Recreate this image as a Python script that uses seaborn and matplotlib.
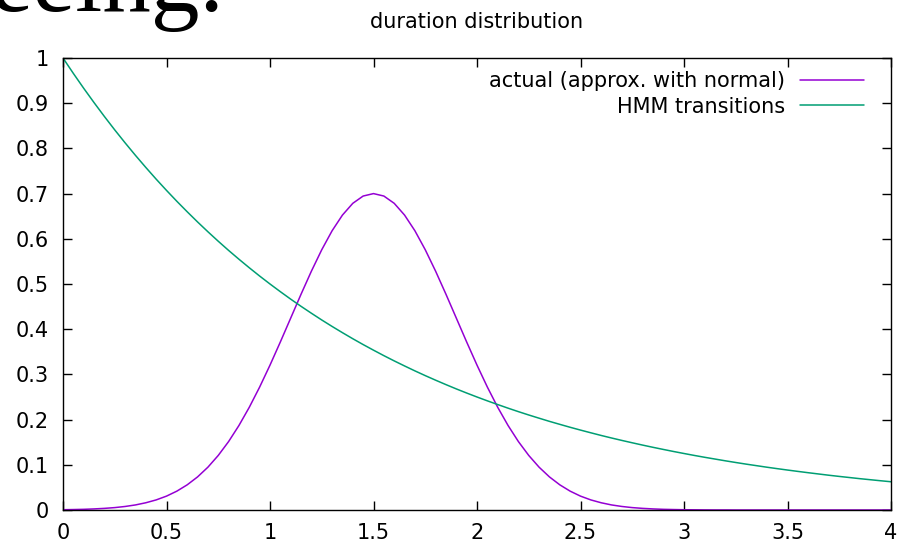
import matplotlib
matplotlib.use("Agg")
import matplotlib.pyplot as plt
import seaborn as sns
import pandas as pd
import numpy as np

# ---- data ----
x_vals = [0.00, 0.05, 0.10, 0.15, 0.20, 0.25, 0.30, 0.35, 0.40, 0.45,
          0.50, 0.55, 0.60, 0.65, 0.70, 0.75, 0.80, 0.85, 0.90, 0.95,
          1.00, 1.05, 1.10, 1.15, 1.20, 1.25, 1.30, 1.35, 1.40, 1.45,
          1.50, 1.55, 1.60, 1.65, 1.70, 1.75, 1.80, 1.85, 1.90, 1.95,
          2.00, 2.05, 2.10, 2.15, 2.20, 2.25, 2.30, 2.35, 2.40, 2.45,
          2.50, 2.55, 2.60, 2.65, 2.70, 2.75, 2.80, 2.85, 2.90, 2.95,
          3.00, 3.05, 3.10, 3.15, 3.20, 3.25, 3.30, 3.35, 3.40, 3.45,
          3.50, 3.55, 3.60, 3.65, 3.70, 3.75, 3.80, 3.85, 3.90, 3.95,
          4.00]

actual_vals = [0.0006, 0.0010, 0.0015, 0.0024, 0.0036, 0.0053, 0.0078, 0.0112, 0.0160, 0.0223,
               0.0307, 0.0417, 0.0557, 0.0732, 0.0947, 0.1207, 0.1514, 0.1870, 0.2273, 0.2720,
               0.3205, 0.3718, 0.4246, 0.4774, 0.5284, 0.5758, 0.6178, 0.6525, 0.6785, 0.6946,
               0.7000, 0.6946, 0.6785, 0.6525, 0.6178, 0.5758, 0.5284, 0.4774, 0.4246, 0.3718,
               0.3205, 0.2720, 0.2273, 0.1870, 0.1514, 0.1207, 0.0947, 0.0732, 0.0557, 0.0417,
               0.0307, 0.0223, 0.0160, 0.0112, 0.0078, 0.0053, 0.0036, 0.0024, 0.0015, 0.0010,
               0.0006, 0.0004, 0.0002, 0.0001, 0.0001, 0.0000, 0.0000, 0.0000, 0.0000, 0.0000,
               0.0000, 0.0000, 0.0000, 0.0000, 0.0000, 0.0000, 0.0000, 0.0000, 0.0000, 0.0000,
               0.0000]

hmm_vals = [1.0000, 0.9659, 0.9330, 0.9013, 0.8706, 0.8409, 0.8123, 0.7846, 0.7579, 0.7320,
            0.7071, 0.6830, 0.6598, 0.6373, 0.6156, 0.5946, 0.5743, 0.5548, 0.5359, 0.5176,
            0.5000, 0.4830, 0.4665, 0.4506, 0.4353, 0.4204, 0.4061, 0.3923, 0.3789, 0.3660,
            0.3536, 0.3415, 0.3299, 0.3187, 0.3078, 0.2973, 0.2872, 0.2774, 0.2679, 0.2588,
            0.2500, 0.2415, 0.2333, 0.2253, 0.2176, 0.2102, 0.2031, 0.1961, 0.1895, 0.1830,
            0.1768, 0.1708, 0.1649, 0.1593, 0.1539, 0.1487, 0.1436, 0.1387, 0.1340, 0.1294,
            0.1250, 0.1207, 0.1166, 0.1127, 0.1088, 0.1051, 0.1015, 0.0981, 0.0947, 0.0915,
            0.0884, 0.0854, 0.0825, 0.0797, 0.0769, 0.0743, 0.0718, 0.0693, 0.0670, 0.0647,
            0.0625]

series_names = ["actual (approx. with normal)", "HMM transitions"]
x_ticks = [0, 0.5, 1, 1.5, 2, 2.5, 3, 3.5, 4]
x_tick_labels = ["0", "0.5", "1", "1.5", "2", "2.5", "3", "3.5", "4"]
y_ticks = [0, 0.1, 0.2, 0.3, 0.4, 0.5, 0.6, 0.7, 0.8, 0.9, 1]
y_tick_labels = ["0", "0.1", "0.2", "0.3", "0.4", "0.5", "0.6", "0.7", "0.8", "0.9", "1"]
title_text = "duration distribution"
header_fragment = "eeing."

df = pd.DataFrame({
    "x": x_vals * 2,
    "y": actual_vals + hmm_vals,
    "series": [series_names[0]] * len(x_vals) + [series_names[1]] * len(x_vals),
})

sns.set_style("ticks")
plt.rcParams["font.family"] = ["DejaVu Sans"]
plt.rcParams["text.color"] = "black"
plt.rcParams["legend.labelcolor"] = "black"

FS = 15

fig = plt.figure(figsize=(9.01, 5.44), dpi=100)
ax = fig.add_axes([63 / 901, 1 - 510 / 544, (891 - 63) / 901, (510 - 58) / 544])

palette = {series_names[0]: "#9400D3", series_names[1]: "#009E73"}
sns.lineplot(data=df, x="x", y="y", hue="series", hue_order=series_names,
             palette=palette, ax=ax, linewidth=1.1, estimator=None, sort=False)

ax.set_xlim(0, 4)
ax.set_ylim(0, 1)
ax.set_xticks(x_ticks)
ax.set_xticklabels(x_tick_labels)
ax.set_yticks(y_ticks)
ax.set_yticklabels(y_tick_labels)
ax.set_xlabel("")
ax.set_ylabel("")
for s in ax.spines.values():
    s.set_visible(True)
    s.set_color("black")
    s.set_linewidth(1.0)
ax.tick_params(direction="in", length=6.5, width=1.0, top=True, right=True,
               labelsize=FS, colors="black")
ax.tick_params(axis="x", pad=9.5)
ax.tick_params(axis="y", pad=10)

leg = ax.legend(loc="upper right", bbox_to_anchor=(0.978, 0.989), frameon=False,
                markerfirst=False, fontsize=FS, handlelength=3.1, handletextpad=0.72,
                borderaxespad=0.0, borderpad=0.4, labelspacing=0.25)

fig.text(477 / 901, 1 - 22 / 544, title_text, ha="center", va="center", fontsize=FS)
fig.text(-0.012, 1 - 11 / 544, header_fragment, ha="left", va="baseline",
         fontsize=70, family="Liberation Serif", color="black")

fig.savefig("out.png", dpi=100)
